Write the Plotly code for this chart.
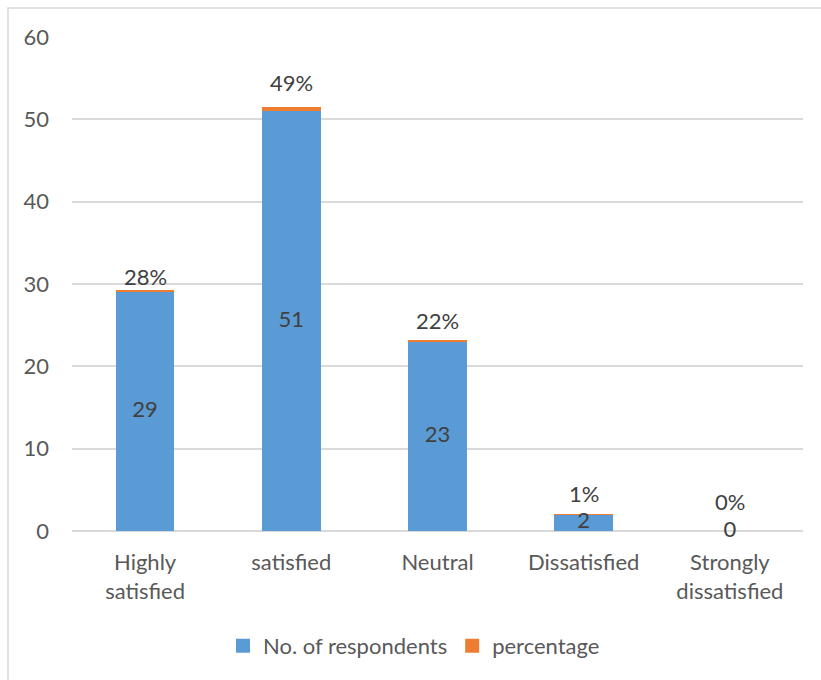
import plotly.graph_objects as go

categories = ["Highly<br>satisfied", "satisfied", "Neutral", "Dissatisfied", "Strongly<br>dissatisfied"]
respondents = [29, 51, 23, 2, 0]
percentage = [0.28, 0.49, 0.22, 0.01, 0.0]
y_ticks = [0, 10, 20, 30, 40, 50, 60]

BLUE = "#5B9BD5"
ORANGE = "#ED7D31"
FONT = "Lato"
TXT = "#404040"
TICK = "#595959"
FS = 22

W, H = 821, 680
ML, MR, MT, MB = 72, 18, 37, 149
pw, ph = W - ML - MR, H - MT - MB

fig = go.Figure()
fig.add_trace(go.Bar(x=categories, y=respondents, name="No. of respondents", showlegend=False,
                     marker=dict(color=BLUE, line=dict(width=0))))
fig.add_trace(go.Bar(x=categories, y=percentage, name="percentage", showlegend=False,
                     marker=dict(color=ORANGE, line=dict(width=0))))

# legend entries with square swatches
for nm, col in [("No. of respondents", BLUE), ("percentage", ORANGE)]:
    fig.add_trace(go.Scatter(x=[None], y=[None], mode="markers", name=nm,
                             marker=dict(symbol="square", size=14, color=col)))

# value labels for respondents, centred in the blue segment
fig.add_trace(go.Scatter(x=categories, y=[v / 2 for v in respondents], mode="text",
                         text=[str(v) for v in respondents], textposition="middle center",
                         textfont=dict(family=FONT, size=FS, color=TXT), cliponaxis=False,
                         showlegend=False, hoverinfo="skip"))

# percentage labels above the stack
label_shift = [13, 25, 19, 21, 30]
for c, r, p, s in zip(categories, respondents, percentage, label_shift):
    fig.add_annotation(x=c, y=r + p, text=f"{round(p * 100)}%", showarrow=False,
                       yshift=s, font=dict(family=FONT, size=FS, color=TXT))

# outer border (top and left visible)
x0 = (8 - ML) / pw
y1 = (H - MB - 8) / ph
fig.add_shape(type="rect", xref="paper", yref="paper", x0=x0, x1=1.2, y0=-0.5, y1=y1,
              line=dict(color="#D9D9D9", width=1.5), fillcolor="rgba(0,0,0,0)", layer="below")

fig.update_layout(
    width=W, height=H, barmode="stack", bargap=0.6,
    margin=dict(l=ML, r=MR, t=MT, b=MB),
    paper_bgcolor="white", plot_bgcolor="white",
    font=dict(family=FONT, size=FS, color=TICK),
    showlegend=True,
    legend=dict(orientation="h", x=(414 - ML) / pw, xanchor="center", y=-0.19, yanchor="top",
                font=dict(family=FONT, size=FS, color=TICK), itemwidth=30,
                traceorder="normal"),
    xaxis=dict(showgrid=False, showline=False, ticks="", ticklabelstandoff=16,
               tickfont=dict(size=FS, color=TICK)),
    yaxis=dict(range=[0, 60], tickvals=y_ticks, showgrid=True, gridcolor="#D9D9D9", gridwidth=1.5,
               zeroline=True, zerolinecolor="#D9D9D9", zerolinewidth=1.5, showline=False,
               ticks="", ticklabelstandoff=22, tickfont=dict(size=FS, color=TICK)),
)

fig.write_html("out.html")
